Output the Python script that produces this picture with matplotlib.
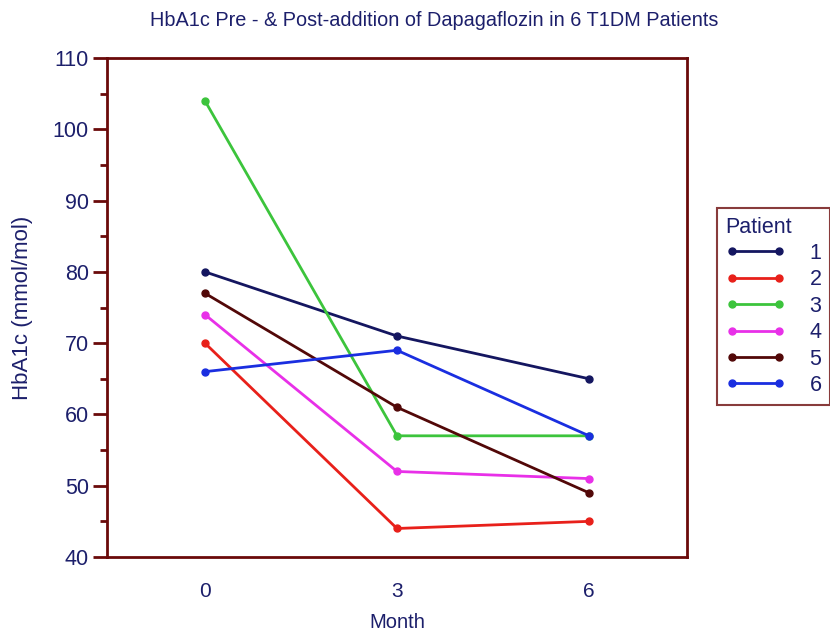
import matplotlib
matplotlib.use("Agg")
from matplotlib import pyplot as plt
from matplotlib.ticker import MultipleLocator

plt.rcParams['font.family'] = ['Liberation Sans', 'DejaVu Sans']

months = [0, 3, 6]
patients = ["1", "2", "3", "4", "5", "6"]
hba1c = {
    "1": [80, 71, 65],
    "2": [70, 44, 45],
    "3": [104, 57, 57],
    "4": [74, 52, 51],
    "5": [77, 61, 49],
    "6": [66, 69, 57],
}
colors = ["#141660", "#e8201a", "#3cc43c", "#e830e8", "#520808", "#1a2ee0"]

text_col = "#1c1f6b"
frame_col = "#6a0a0a"

fig = plt.figure(figsize=(8.3, 6.31), dpi=100)
ax = fig.add_axes([107/830, 1-557/631, 580/830, 499/631])

for p, c in zip(patients, colors):
    ax.plot(months, hba1c[p], color=c, lw=2, marker="o", ms=5, label=p)

ax.set_xlim(-1.53, 7.53)
ax.set_ylim(40, 110)
ax.yaxis.set_major_locator(MultipleLocator(10))
ax.yaxis.set_minor_locator(MultipleLocator(5))
ax.set_xticks(months)
ax.tick_params(axis="x", length=0, pad=18, labelsize=15, labelcolor=text_col)
ax.tick_params(axis="y", which="major", length=10, width=2, color=frame_col,
               labelsize=15.5, labelcolor=text_col, pad=3)
ax.tick_params(axis="y", which="minor", length=5, width=2, color=frame_col)
for s in ax.spines.values():
    s.set_color(frame_col)
    s.set_linewidth(2)

ax.set_xlabel("Month", fontsize=14.5, color=text_col, labelpad=9)
ax.set_ylabel("HbA1c (mmol/mol)", fontsize=16, color=text_col, labelpad=14)
fig.text(434/830, 1-21/631, "HbA1c Pre - & Post-addition of Dapagaflozin in 6 T1DM Patients",
         ha="center", va="center", fontsize=14.3, color=text_col)

leg = ax.legend(title="Patient", loc="upper left", bbox_to_anchor=(717/830, 1-208/631),
                bbox_transform=fig.transFigure, numpoints=2, handlelength=2.8,
                fontsize=15.5, title_fontsize=15.5, frameon=True, fancybox=False,
                borderaxespad=0, labelspacing=0.25, handletextpad=1.1,
                borderpad=0.4)
leg._legend_box.align = "left"
leg.get_frame().set_edgecolor(frame_col)
leg.get_frame().set_linewidth(1.5)
leg.get_title().set_color(text_col)
for t in leg.get_texts():
    t.set_color(text_col)

fig.savefig("out.png", dpi=100)
